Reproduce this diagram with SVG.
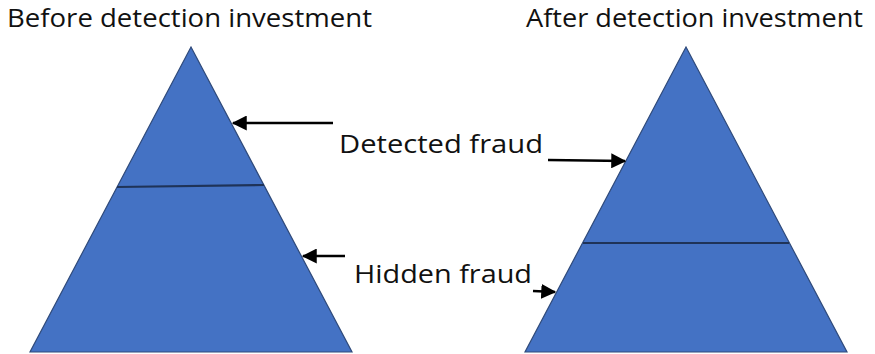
<svg xmlns="http://www.w3.org/2000/svg" width="875" height="354" viewBox="0 0 875 354">
<style>
.tri{fill:#4472c4;stroke:#2f4a7a;stroke-width:1.2}
.div{stroke:#1f3358;stroke-width:2.2;fill:none}
.t{font-family:"Open Sans","Noto Sans","DejaVu Sans",sans-serif;fill:#111;font-size:26px}
.arr{stroke:#000;stroke-width:2.5;fill:none;marker-end:url(#ah)}
</style>
<defs>
<marker id="ah" markerWidth="6" markerHeight="6" refX="5.5" refY="3" orient="auto" markerUnits="strokeWidth">
<path d="M0,0 L6,3 L0,6 Z" fill="#000"/>
</marker>
</defs>
<rect width="875" height="354" fill="#fff"/>
<g id="before">
<polygon class="tri" points="191,47 352,352 30,352"/>
<line class="div" x1="117" y1="187" x2="264" y2="185"/>
<text class="t" x="7" y="27" textLength="365" lengthAdjust="spacingAndGlyphs">Before detection investment</text>
</g>
<g id="after">
<polygon class="tri" points="686,47 847,352 525,352"/>
<line class="div" x1="583" y1="243" x2="789" y2="243"/>
<text class="t" x="526" y="27" textLength="337" lengthAdjust="spacingAndGlyphs">After detection investment</text>
</g>
<g id="labels">
<text class="t" x="339" y="153" textLength="204" lengthAdjust="spacingAndGlyphs">Detected fraud</text>
<text class="t" x="354" y="283" textLength="178" lengthAdjust="spacingAndGlyphs">Hidden fraud</text>
</g>
<g id="connectors">
<line class="arr" x1="333" y1="123" x2="233" y2="123"/>
<line class="arr" x1="548" y1="160" x2="625" y2="161"/>
<line class="arr" x1="345" y1="256" x2="303" y2="256"/>
<line class="arr" x1="533" y1="291" x2="555" y2="292"/>
</g>
</svg>
